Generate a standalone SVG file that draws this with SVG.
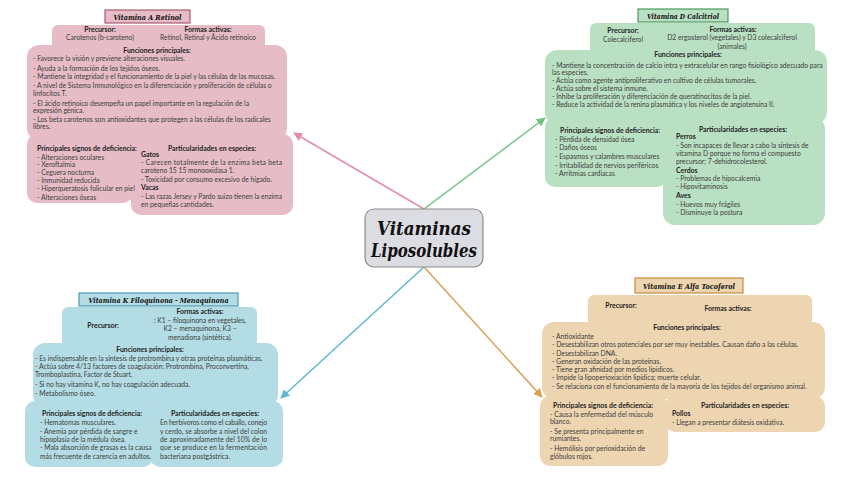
<svg xmlns="http://www.w3.org/2000/svg" width="848" height="477" viewBox="0 0 848 477">
<style>
.t{font-family:Lato,"Open Sans","Liberation Sans",sans-serif;font-size:6.75px;fill:#3c3c3c}
.b{font-family:Lato,"Open Sans","Liberation Sans",sans-serif;font-size:6.9px;font-weight:bold;fill:#222}
.m{text-anchor:middle}
.ttl{font-family:"DejaVu Serif","Liberation Serif",serif;font-style:italic;font-weight:bold;font-size:8px;fill:#111;text-anchor:middle}
.big{font-size:18.5px}
.pk{fill:#e6bcc6}
.gr{fill:#b9e0c2}
.bl{fill:#b4dce5}
.or{fill:#eed5b1}
</style>
<defs>
<marker id="aP" viewBox="0 0 10 10" refX="9" refY="5" markerWidth="6" markerHeight="6" orient="auto"><path d="M0,0L10,5L0,10z" fill="#e28fa6"/></marker>
<marker id="aG" viewBox="0 0 10 10" refX="9" refY="5" markerWidth="6" markerHeight="6" orient="auto"><path d="M0,0L10,5L0,10z" fill="#6cc47f"/></marker>
<marker id="aB" viewBox="0 0 10 10" refX="9" refY="5" markerWidth="6" markerHeight="6" orient="auto"><path d="M0,0L10,5L0,10z" fill="#5bb8cf"/></marker>
<marker id="aO" viewBox="0 0 10 10" refX="9" refY="5" markerWidth="6" markerHeight="6" orient="auto"><path d="M0,0L10,5L0,10z" fill="#d9a04f"/></marker>
</defs>
<rect width="848" height="477" fill="#fff"/>

<g id="connectors" stroke-width="1.5" fill="none">
<line x1="424" y1="209" x2="294" y2="133" stroke="#e28fa6" marker-end="url(#aP)"/>
<line x1="424" y1="209" x2="545" y2="118" stroke="#6cc47f" marker-end="url(#aG)"/>
<line x1="424" y1="267" x2="281" y2="398" stroke="#5bb8cf" marker-end="url(#aB)"/>
<line x1="424" y1="267" x2="542" y2="397" stroke="#d9a04f" marker-end="url(#aO)"/>
</g>

<g id="center">
<rect x="365" y="209" width="118" height="58" rx="9" fill="#dcdde3" stroke="#8c8c8c" stroke-width="1.2"/>
<text class="ttl big" x="424" y="235" textLength="94" lengthAdjust="spacingAndGlyphs">Vitaminas</text>
<text class="ttl big" x="424" y="257" textLength="106" lengthAdjust="spacingAndGlyphs">Liposolubles</text>
</g>

<g id="vitA">
<rect class="pk" x="52" y="25" width="213" height="32" rx="6"/>
<rect class="pk" x="27" y="45" width="260" height="95" rx="12"/>
<rect class="pk" x="27" y="134" width="106" height="69" rx="10"/>
<rect class="pk" x="131" y="134" width="162" height="81" rx="10"/>
<rect class="pk" x="105" y="10" width="85" height="13" stroke="#a85c76" stroke-width="1.2"/>
<text class="ttl" x="147.5" y="19.5" textLength="68" lengthAdjust="spacingAndGlyphs">Vitamina A Retinol</text>
<text class="b m" x="100" y="32">Precursor:</text>
<text class="t m" x="100" y="40">Carotenos (b-caroteno)</text>
<text class="b m" x="208" y="32">Formas activas:</text>
<text class="t m" x="208" y="40">Retinol, Retinal y Ácido retinoico</text>
<text class="b m" x="157" y="53">Funciones principales:</text>
<text class="t" x="33" y="60.5">- Favorece la visión y previene alteraciones visuales.</text>
<text class="t" x="33" y="70.5">- Ayuda a la formación de los tejidos óseos.</text>
<text class="t" x="33" y="79">- Mantiene la integridad y el funcionamiento de la piel y las células de las mucosas.</text>
<text class="t" x="33" y="88">- A nivel de Sistema Inmunológico en la diferenciación y proliferación de células o</text>
<text class="t" x="33" y="95.5">linfocitos T.</text>
<text class="t" x="33" y="105.5">- El ácido retinoico desempeña un papel importante en la regulación de la</text>
<text class="t" x="33" y="113">expresión génica.</text>
<text class="t" x="33" y="122">- Los beta carotenos son antioxidantes que protegen a las células de los radicales</text>
<text class="t" x="33" y="129">libres.</text>
<text class="b" x="37" y="151">Principales signos de deficiencia:</text>
<text class="t" x="37" y="160">- Alteraciones oculares</text>
<text class="t" x="37" y="166.5">- Xeroftalmia</text>
<text class="t" x="37" y="174.5">- Ceguera nocturna</text>
<text class="t" x="37" y="183">- Inmunidad reducida</text>
<text class="t" x="37" y="191">- Hiperqueratosis folicular en piel</text>
<text class="t" x="37" y="199.5">- Alteraciones óseas</text>
<text class="b m" x="212" y="151">Particularidades en especies:</text>
<text class="b" x="141" y="157">Gatos</text>
<text class="t" x="141" y="165" textLength="141" lengthAdjust="spacing">- Carecen totalmente de la enzima beta beta</text>
<text class="t" x="141" y="173">caroteno 15 15 monooxidasa 1.</text>
<text class="t" x="141" y="182">- Toxicidad por consumo excesivo de hígado.</text>
<text class="b" x="141" y="190">Vacas</text>
<text class="t" x="141" y="199" textLength="141" lengthAdjust="spacing">- Las razas Jersey y Pardo suizo tienen la enzima</text>
<text class="t" x="141" y="207">en pequeñas cantidades.</text>
</g>

<g id="vitD">
<rect class="gr" x="590" y="23" width="225" height="34" rx="6"/>
<rect class="gr" x="545" y="50" width="282" height="74" rx="12"/>
<rect class="gr" x="545" y="117" width="122" height="70" rx="10"/>
<rect class="gr" x="663" y="117" width="162" height="108" rx="12"/>
<rect class="gr" x="638" y="9" width="90" height="13" stroke="#4f9a60" stroke-width="1.2"/>
<text class="ttl" x="683" y="18.5" textLength="72" lengthAdjust="spacingAndGlyphs">Vitamina D Calcitriol</text>
<text class="b m" x="623" y="33">Precursor:</text>
<text class="t m" x="623" y="42">Colecalciferol</text>
<text class="b m" x="733" y="32">Formas activas:</text>
<text class="t m" x="732" y="40">D2 ergosterol (vegetales) y D3 colecalciferol</text>
<text class="t m" x="732" y="49">(animales)</text>
<text class="b m" x="688" y="57">Funciones principales:</text>
<text class="t" x="552" y="68">- Mantiene la concentración de calcio intra y extracelular en rango fisiológico adecuado para</text>
<text class="t" x="552" y="75">las especies.</text>
<text class="t" x="552" y="83">- Actúa como agente antiproliferativo en cultivo de células tumorales.</text>
<text class="t" x="552" y="91">- Actúa sobre el sistema inmune.</text>
<text class="t" x="552" y="99">- Inhibe la proliferación y diferenciación de queratinocitos de la piel.</text>
<text class="t" x="552" y="107">- Reduce la actividad de la renina plasmática y los niveles de angiotensina II.</text>
<text class="b m" x="610" y="133">Principales signos de deficiencia:</text>
<text class="t" x="555" y="142">- Pérdida de densidad ósea</text>
<text class="t" x="555" y="150">- Daños óseos</text>
<text class="t" x="555" y="159">- Espasmos y calambres musculares</text>
<text class="t" x="555" y="168">- Irritabilidad de nervios periféricos</text>
<text class="t" x="555" y="176">- Arritmias cardiacas</text>
<text class="b m" x="743" y="132">Particularidades en especies:</text>
<text class="b" x="676" y="139">Perros</text>
<text class="t" x="676" y="148">- Son incapaces de llevar a cabo la síntesis de</text>
<text class="t" x="676" y="156">vitamina D porque no forma el compuesto</text>
<text class="t" x="676" y="164">precursor; 7-dehidrocolesterol.</text>
<text class="b" x="676" y="173">Cerdos</text>
<text class="t" x="676" y="181">- Problemas de hipocalcemia</text>
<text class="t" x="676" y="189">- Hipovitaminosis</text>
<text class="b" x="676" y="198">Aves</text>
<text class="t" x="676" y="207">- Huevos muy frágiles</text>
<text class="t" x="676" y="215">- Disminuye la postura</text>
</g>

<g id="vitK">
<rect class="bl" x="62" y="307" width="195" height="40" rx="6"/>
<rect class="bl" x="33" y="343" width="245" height="64" rx="12"/>
<rect class="bl" x="25" y="401" width="128" height="66" rx="10"/>
<rect class="bl" x="150" y="401" width="133" height="66" rx="10"/>
<rect class="bl" x="79" y="293" width="159" height="13" stroke="#4a9bb0" stroke-width="1.2"/>
<text class="ttl" x="158.5" y="302.5" textLength="140" lengthAdjust="spacingAndGlyphs">Vitamina K Filoquinona - Menaquinona</text>
<text class="b m" x="103" y="328">Precursor:</text>
<text class="b m" x="200" y="314">Formas activas:</text>
<text class="t m" x="200" y="323">: K1 – filoquinona en vegetales,</text>
<text class="t m" x="200" y="331">K2 – menaquinona, K3 –</text>
<text class="t m" x="200" y="340">menadiona (sintética).</text>
<text class="b m" x="150" y="352">Funciones principales:</text>
<text class="t" x="35" y="361">- Es indispensable en la síntesis de protrombina y otras proteínas plasmáticas.</text>
<text class="t" x="35" y="369">- Actúa sobre 4/13 factores de coagulación: Protrombina, Proconvertina,</text>
<text class="t" x="35" y="377">Tromboplastina, Factor de Stuart.</text>
<text class="t" x="35" y="387">- Si no hay vitamina K, no hay coagulación adecuada.</text>
<text class="t" x="35" y="396">- Metabolismo óseo.</text>
<text class="b m" x="92" y="416">Principales signos de deficiencia:</text>
<text class="t" x="40" y="425">- Hematomas musculares.</text>
<text class="t" x="40" y="434">- Anemia por pérdida de sangre e</text>
<text class="t" x="40" y="442">hipoplasia de la médula ósea.</text>
<text class="t" x="40" y="450">- Mala absorción de grasas es la causa</text>
<text class="t" x="40" y="459">más frecuente de carencia en adultos.</text>
<text class="b m" x="215" y="416">Particularidades en especies:</text>
<text class="t" x="160" y="425" textLength="107" lengthAdjust="spacing">En herbívoros como el caballo, conejo</text>
<text class="t" x="160" y="434" textLength="107" lengthAdjust="spacing">y cerdo, se absorbe a nivel del colon</text>
<text class="t" x="160" y="442" textLength="107" lengthAdjust="spacing">de aproximadamente del 10% de lo</text>
<text class="t" x="160" y="450" textLength="107" lengthAdjust="spacing">que se produce en la fermentación</text>
<text class="t" x="160" y="459">bacteriana postgástrica.</text>
</g>

<g id="vitE">
<rect class="or" x="588" y="295" width="224" height="32" rx="6"/>
<rect class="or" x="542" y="322" width="283" height="77" rx="12"/>
<rect class="or" x="540" y="396" width="128" height="70" rx="10"/>
<rect class="or" x="665" y="396" width="160" height="36" rx="10"/>
<rect class="or" x="635" y="278" width="108" height="15" stroke="#c98a3b" stroke-width="1.2"/>
<text class="ttl" x="689" y="288.5" textLength="92" lengthAdjust="spacingAndGlyphs">Vitamina E Alfa Tocoferol</text>
<text class="b m" x="621" y="308">Precursor:</text>
<text class="b m" x="728" y="311">Formas activas:</text>
<text class="b m" x="687" y="330">Funciones principales:</text>
<text class="t" x="552" y="339">- Antioxidante</text>
<text class="t" x="552" y="347">- Desestabilizan otros potenciales por ser muy inestables. Causan daño a las células.</text>
<text class="t" x="552" y="356">- Desestabilizan DNA.</text>
<text class="t" x="552" y="364">- Generan oxidación de las proteínas.</text>
<text class="t" x="552" y="372">- Tiene gran afinidad por medios lipídicos.</text>
<text class="t" x="552" y="380">- Impide la lipoperioxiación lipídica; muerte celular.</text>
<text class="t" x="552" y="389">- Se relaciona con el funcionamiento de la mayoría de los tejidos del organismo animal.</text>
<text class="b m" x="603" y="408">Principales signos de deficiencia:</text>
<text class="t" x="550" y="417">- Causa la enfermedad del músculo</text>
<text class="t" x="550" y="424">blanco.</text>
<text class="t" x="550" y="434">- Se presenta principalmente en</text>
<text class="t" x="550" y="441">rumiantes.</text>
<text class="t" x="550" y="451">- Hemólisis por perioxidación de</text>
<text class="t" x="550" y="459">glóbulos rojos.</text>
<text class="b m" x="745" y="408">Particularidades en especies:</text>
<text class="b" x="672" y="416">Pollos</text>
<text class="t" x="672" y="425">- Llegan a presentar diátesis oxidativa.</text>
</g>
</svg>
